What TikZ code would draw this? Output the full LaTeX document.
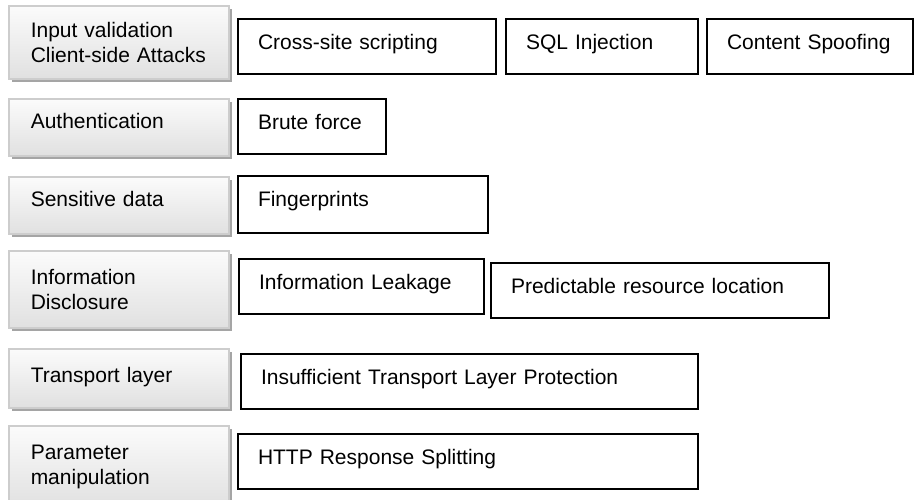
\documentclass[tikz,border=0pt]{standalone}
\usepackage{fontspec}
\setmainfont{Liberation Sans}
\usetikzlibrary{shadows}
\definecolor{catedge}{RGB}{205,205,205}
\definecolor{catshadow}{RGB}{165,165,165}

\begin{document}
\begin{tikzpicture}[x=0.5pt,y=-0.5pt,
  every node/.append style={font=\fontsize{10.5}{12.75}\selectfont, anchor=north west},
  catbox/.style={draw=catedge, line width=0.75pt, top color=gray!3, bottom color=gray!24,
    inner xsep=11pt, text width=88pt, align=left,
    drop shadow={shadow xshift=1.5pt, shadow yshift=-1.5pt, fill=catshadow, opacity=1}},
  attackbox/.style={draw=black, line width=1pt, fill=white, inner xsep=10pt, inner ysep=0pt,
    text height=15pt, text depth=12.5pt, align=left}]

\clip (0,0) rectangle (914,499);

% ── Categories (left column) ─────────────────────────────────────────────────
\node[catbox, minimum height=36.5pt] (catInput) at (8,5) {Input validation\\Client-side Attacks};
\node[catbox, inner ysep=0pt, text height=14.75pt, text depth=13.75pt] (catAuth) at (8,98) {Authentication};
\node[catbox, inner ysep=0pt, text height=14.75pt, text depth=13.75pt] (catSens) at (8,176) {Sensitive data};
\node[catbox, minimum height=38.5pt] (catDisc) at (8,250) {Information\\Disclosure};
\node[catbox, inner ysep=0pt, text height=16.75pt, text depth=12.75pt] (catTrans) at (8,348) {Transport layer};
\node[catbox, minimum height=41pt] (catParam) at (8,425) {Parameter\\manipulation};

% ── Attacks per category ─────────────────────────────────────────────────────
\node[attackbox, text width=109pt] (xss) at (237,18) {Cross-site scripting};
\node[attackbox, text width=76pt] (sqli) at (505,18) {SQL Injection};
\node[attackbox, text width=83pt] (spoof) at (706,18) {Content Spoofing};

\node[attackbox, text width=54pt] (brute) at (237,98) {Brute force};

\node[attackbox, text width=105pt, text depth=13.5pt] (finger) at (237,175) {Fingerprints};

\node[attackbox, text width=102.5pt] (leak) at (238,258) {Information Leakage};
\node[attackbox, text width=149pt] (predict) at (490,262) {Predictable resource location};

\node[attackbox, text width=208.5pt] (tlsprot) at (240,353) {Insufficient Transport Layer Protection};

\node[attackbox, text width=210pt] (httpsplit) at (237,433) {HTTP Response Splitting};

\end{tikzpicture}
\end{document}
